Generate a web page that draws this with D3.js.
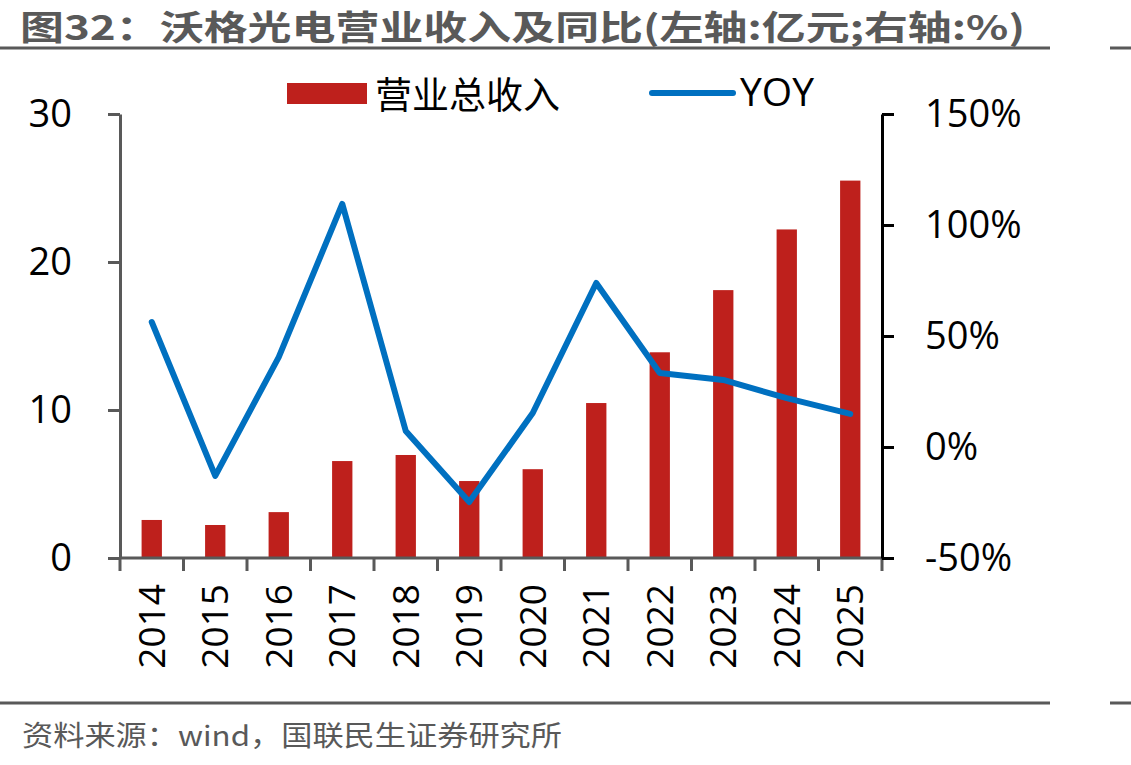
<!DOCTYPE html>
<html>
<head>
<meta charset="utf-8">
<script src="https://cdn.jsdelivr.net/npm/d3@7"></script>
<style>
  body { margin: 0; background: #fff; }
  svg { display: block; }
</style>
</head>
<body>
<div id="vis"></div>
<script>
const FRAME_WIDTH = 1131;
const FRAME_HEIGHT = 765;
const MARGINS = {left: 120, right: 249, top: 114, bottom: 207};

const years = ["2014", "2015", "2016", "2017", "2018", "2019", "2020", "2021", "2022", "2023", "2024", "2025"];
const revenue = [2.57, 2.23, 3.1, 6.55, 6.96, 5.2, 6.0, 10.47, 13.9, 18.1, 22.2, 25.5];
const yoy = [56.3, -13, 40.5, 109.5, 7.2, -24.8, 15.3, 73.9, 33.3, 30.2, 22.0, 14.9];
const leftTicks = [0, 10, 20, 30];
const rightTicks = [-50, 0, 50, 100, 150];

const FONT = "'Open Sans', 'Noto Sans CJK SC', sans-serif";
const CJK = "'Noto Sans CJK SC', sans-serif";

const svg = d3.select("#vis")
  .append("svg")
    .attr("width", FRAME_WIDTH)
    .attr("height", FRAME_HEIGHT);

const xScale = d3.scaleBand()
  .domain(years)
  .range([MARGINS.left, FRAME_WIDTH - MARGINS.right])
  .paddingInner(0.68)
  .paddingOuter(0.34);

const yLeft = d3.scaleLinear()
  .domain([0, 30])
  .range([FRAME_HEIGHT - MARGINS.bottom, MARGINS.top]);

const yRight = d3.scaleLinear()
  .domain([-50, 150])
  .range([FRAME_HEIGHT - MARGINS.bottom, MARGINS.top]);

// title + rules
svg.append("text")
  .attr("x", 20).attr("y", 40)
  .attr("font-family", CJK)
  .attr("font-weight", "bold")
  .attr("font-size", 34)
  .attr("fill", "#595959")
  .attr("textLength", 1005)
  .attr("lengthAdjust", "spacingAndGlyphs")
  .text("图32：沃格光电营业收入及同比(左轴:亿元;右轴:%)");

[48, 703].forEach(y => {
  svg.append("rect").attr("x", 0).attr("y", y - 1.5).attr("width", 1050).attr("height", 3).attr("fill", "#595959");
  svg.append("rect").attr("x", 1110).attr("y", y - 1.5).attr("width", 21).attr("height", 3).attr("fill", "#595959");
});

svg.append("text")
  .attr("x", 22).attr("y", 746)
  .attr("font-family", CJK)
  .attr("font-size", 28)
  .attr("fill", "#595959")
  .attr("textLength", 540)
  .attr("lengthAdjust", "spacingAndGlyphs")
  .text("资料来源：wind，国联民生证券研究所");

// bars
svg.selectAll(".bar")
  .data(years)
  .enter()
  .append("rect")
    .attr("class", "bar")
    .attr("x", d => xScale(d))
    .attr("y", (d, i) => yLeft(revenue[i]))
    .attr("width", xScale.bandwidth())
    .attr("height", (d, i) => yLeft(0) - yLeft(revenue[i]))
    .attr("fill", "#BE201C");

// yoy line
const line = d3.line()
  .x((d, i) => xScale(years[i]) + xScale.bandwidth() / 2)
  .y(d => yRight(d));

svg.append("path")
  .datum(yoy)
  .attr("d", line)
  .attr("fill", "none")
  .attr("stroke", "#0070C0")
  .attr("stroke-width", 6)
  .attr("stroke-linejoin", "round")
  .attr("stroke-linecap", "round");

// x axis
const xAxis = svg.append("g")
  .attr("transform", "translate(0," + yLeft(0) + ")");
xAxis.append("line")
  .attr("x1", MARGINS.left).attr("x2", FRAME_WIDTH - MARGINS.right)
  .attr("stroke", "#595959").attr("stroke-width", 3);
const step = xScale.step();
d3.range(years.length + 1).forEach(i => {
  const x = MARGINS.left + i * step;
  xAxis.append("line").attr("x1", x).attr("x2", x).attr("y1", 0).attr("y2", 13)
    .attr("stroke", "#595959").attr("stroke-width", 3);
});
xAxis.selectAll(".xlab")
  .data(years)
  .enter()
  .append("text")
    .attr("class", "xlab")
    .attr("transform", d => "translate(" + (xScale(d) + xScale.bandwidth() / 2 + 13) + ",26) rotate(-90)")
    .attr("text-anchor", "end")
    .attr("font-family", FONT)
    .attr("font-size", 37)
    .attr("fill", "#000")
    .text(d => d);

// left axis
const gl = svg.append("g")
  .attr("transform", "translate(" + MARGINS.left + ",0)")
  .call(d3.axisLeft(yLeft).tickValues(leftTicks).tickSize(12).tickPadding(36).tickSizeOuter(0));
gl.select(".domain").attr("stroke", "#595959").attr("stroke-width", 3);
gl.selectAll(".tick line").attr("stroke", "#595959").attr("stroke-width", 3);
gl.selectAll(".tick text").attr("font-family", FONT).attr("font-size", 38).attr("fill", "#000");

// right axis
const gr = svg.append("g")
  .attr("transform", "translate(" + (FRAME_WIDTH - MARGINS.right) + ",0)")
  .call(d3.axisRight(yRight).tickValues(rightTicks).tickSize(12).tickPadding(31).tickSizeOuter(0)
    .tickFormat(d => d + "%"));
gr.select(".domain").attr("stroke", "#000").attr("stroke-width", 3);
gr.selectAll(".tick line").attr("stroke", "#000").attr("stroke-width", 3);
gr.selectAll(".tick text").attr("font-family", FONT).attr("font-size", 38).attr("fill", "#000");

// legend
svg.append("rect").attr("x", 287).attr("y", 83).attr("width", 80).attr("height", 21).attr("fill", "#BE201C");
svg.append("text").attr("x", 375).attr("y", 109)
  .attr("font-family", CJK).attr("font-size", 37).attr("fill", "#000").text("营业总收入");
svg.append("line").attr("x1", 652).attr("x2", 733).attr("y1", 93).attr("y2", 93)
  .attr("stroke", "#0070C0").attr("stroke-width", 6).attr("stroke-linecap", "round");
svg.append("text").attr("x", 740).attr("y", 106)
  .attr("font-family", FONT).attr("font-size", 39).attr("fill", "#000").text("YOY");
</script>
</body>
</html>
